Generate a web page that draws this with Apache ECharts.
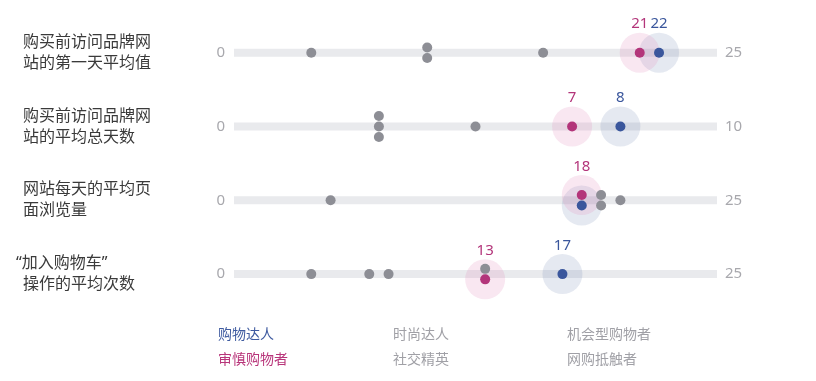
<!DOCTYPE html>
<html><head><meta charset="utf-8">
<script src="https://cdn.jsdelivr.net/npm/echarts@6/dist/echarts.min.js"></script>
<style>html,body{margin:0;padding:0;background:#fff}#c{width:816px;height:381px}</style>
</head><body><div id="c"></div>
<script>
// ---- data ----
const metrics = ['购买前访问品牌网\n站的第一天平均值', '购买前访问品牌网\n站的平均总天数', '网站每天的平均页\n面浏览量', '“加入购物车”\n操作的平均次数'];
const axisMin = [0, 0, 0, 0];
const axisMax = [25, 10, 25, 25];
const seriesNames = ['购物达人', '审慎购物者', '时尚达人', '社交精英', '机会型购物者', '网购抵触者'];
const shopaholic  = [22, 8, 18, 17];   // 购物达人
const cautious    = [21, 7, 18, 13];   // 审慎购物者
const fashion     = [10, 3, 19, 13];   // 时尚达人
const social      = [10, 3, 19, 8];    // 社交精英
const opportunist = [16, 5, 20, 7];    // 机会型购物者
const resistant   = [4, 3, 5, 4];      // 网购抵触者
const seriesValues = [shopaholic, cautious, fashion, social, opportunist, resistant];

// ---- styles ----
const FONT = '"Noto Sans", "Noto Sans CJK SC", sans-serif';
const dotColors = ['#3a569c', '#b3357a', '#8d8e95', '#8d8e95', '#8d8e95', '#8d8e95'];
const haloColors = ['rgba(95,120,165,0.2)', 'rgba(227,135,187,0.25)'];
const highlighted = [0, 1];
const legendText = ['#3f5ba0', '#b8357a', '#a0a0a6', '#a0a0a6', '#a0a0a6', '#a0a0a6'];
const ROW0 = 52.7, ROWSTEP = 73.8, GRID_H = 40, STACK = 10.5;

const grids = [], xAxes = [], yAxes = [], series = [];
metrics.forEach((m, i) => {
  const center = ROW0 + i * ROWSTEP;
  grids.push({left: 234, right: 99, top: center - GRID_H / 2, height: GRID_H});
  xAxes.push({type: 'value', gridIndex: i, min: axisMin[i], max: axisMax[i], show: false});
  const base = {type: 'category', gridIndex: i, data: [m], axisLine: {show: false}, axisTick: {show: false}, splitLine: {show: false}};
  yAxes.push(Object.assign({}, base, {position: 'left', axisLabel: {formatter: () => String(axisMin[i]), margin: 9, color: '#a8a8ad', fontSize: 15, fontFamily: FONT}}));
  yAxes.push(Object.assign({}, base, {position: 'left', axisLabel: {
    align: 'left', margin: 218, fontFamily: FONT,
    formatter: v => v.split('\n').map(l => (l.startsWith('“') ? '{q|' : '{p|') + l + '}').join('\n'),
    rich: {p: {fontSize: 16, color: '#3a3a3a', lineHeight: 21, padding: [0, 0, 0, 7], fontFamily: FONT},
           q: {fontSize: 16, color: '#3a3a3a', lineHeight: 21, fontFamily: FONT}}
  }}));
  yAxes.push(Object.assign({}, base, {position: 'right', axisLabel: {formatter: () => String(axisMax[i]), margin: 8, color: '#a8a8ad', fontSize: 15, fontFamily: FONT}}));
  const yi = i * 3;
  // track
  series.push({type: 'bar', xAxisIndex: i, yAxisIndex: yi, data: [axisMax[i]], barWidth: 8, silent: true,
    itemStyle: {color: '#e9eaed'}, z: 1, animation: false});
  // stacking offsets for equal values
  const offs = seriesValues.map((vals, s) => {
    const group = seriesValues.map((v, t) => t).filter(t => seriesValues[t][i] === vals[i]);
    const k = group.indexOf(s), n = group.length;
    return ((n - 1) / 2 - k) * STACK;
  });
  const showLabel = seriesValues.map((vals, s) => {
    if (!highlighted.includes(s)) return false;
    return !highlighted.some(t => t > s && seriesValues[t][i] === vals[i]);
  });
  highlighted.forEach(s => {
    series.push({type: 'scatter', xAxisIndex: i, yAxisIndex: yi, silent: true, z: 2, animation: false,
      data: [{value: [seriesValues[s][i], 0], symbolOffset: [0, offs[s]]}],
      symbolSize: 40, itemStyle: {color: haloColors[s]}});
  });
  seriesValues.forEach((vals, s) => {
    series.push({type: 'scatter', name: seriesNames[s], xAxisIndex: i, yAxisIndex: yi, z: highlighted.includes(s) ? 4 : 3, animation: false,
      data: [{value: [vals[i], 0], symbolOffset: [0, offs[s]]}],
      symbolSize: 10, itemStyle: {color: dotColors[s], opacity: 1},
      label: {show: showLabel[s], position: 'top', distance: 16, formatter: p => String(p.value[0]),
        color: dotColors[s], fontSize: 15, fontFamily: FONT}});
  });
});

const legendCols = [[0, 1], [2, 3], [4, 5]];
const legendLeft = [208, 383, 557];
const legends = legendCols.map((col, c) => ({
  orient: 'vertical', left: legendLeft[c], top: 323, itemWidth: 0, itemHeight: 0, itemGap: 11,
  selectedMode: false, icon: 'rect',
  data: col.map(s => ({name: seriesNames[s], textStyle: {color: legendText[s], fontSize: 14, fontFamily: FONT}}))
}));

const chart = echarts.init(document.getElementById('c'));
chart.setOption({animation: false, grid: grids, xAxis: xAxes, yAxis: yAxes, series: series, legend: legends});
</script></body></html>
